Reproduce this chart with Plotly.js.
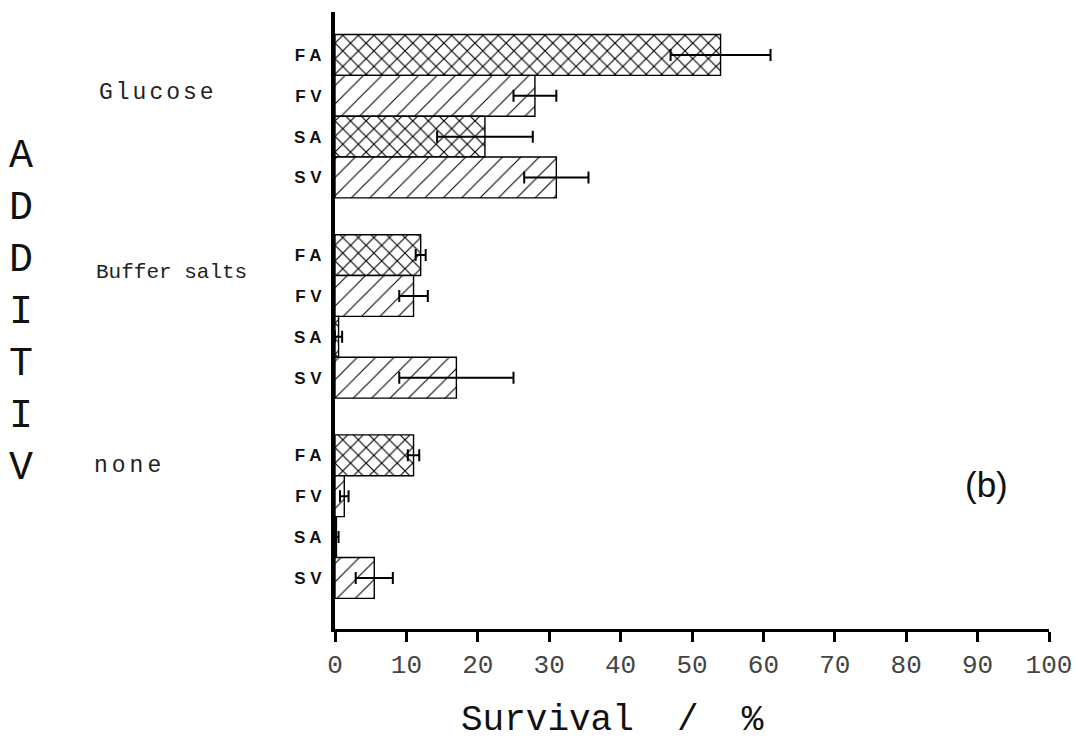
<!DOCTYPE html>
<html>
<head>
<meta charset="utf-8">
<script src="https://cdn.plot.ly/plotly-3.0.1.min.js"></script>
<style>
  html, body { margin: 0; padding: 0; background: #fff; }
  #chart { width: 1079px; height: 751px; }
</style>
</head>
<body>
<div id="chart"></div>
<script>
// ---- data ----
const groups = ['Glucose', 'Buffer salts', 'none'];
const subcats = ['F A', 'F V', 'S A', 'S V'];
const glucose = [54, 28, 21, 31];
const glucoseErr = [7, 3, 6.7, 4.5];
const bufferSalts = [12, 11, 0.5, 17];
const bufferSaltsErr = [0.7, 2, 0.5, 8];
const none = [11, 1.3, 0.2, 5.5];
const noneErr = [0.8, 0.6, 0.3, 2.6];
const xTicks = [0, 10, 20, 30, 40, 50, 60, 70, 80, 90, 100];
const xTitle = 'Survival\u00a0\u00a0/\u00a0\u00a0%';
const yTitle = 'ADDITIV';
const panelLabel = '(b)';

// ---- layout helpers ----
const W = 1079, H = 751;
const M = { l: 335, r: 30, t: 12, b: 122 };
const PW = W - M.l - M.r, PH = H - M.t - M.b;
const px2x = p => (p - M.l) / PW;
const py2y = p => (H - M.b - p) / PH;

const groupPitch = 4.9;
const values = [glucose, bufferSalts, none];
const errs = [glucoseErr, bufferSaltsErr, noneErr];
const isCross = s => s[2] === 'A';

const ys = [], xs = [], es = [], shapes = [], sizes = [], solid = [], texts = [];
values.forEach((vals, g) => {
  vals.forEach((v, j) => {
    ys.push(g * groupPitch + j);
    xs.push(v);
    es.push(errs[g][j]);
    const c = isCross(subcats[j]);
    shapes.push(c ? 'x' : '/');
    sizes.push(c ? 11 : 13);
    solid.push(c ? 0.2 : 0.08);
    texts.push(subcats[j]);
  });
});

const trace = {
  type: 'bar',
  orientation: 'h',
  x: xs,
  y: ys,
  width: 1,
  marker: {
    color: 'white',
    line: { color: 'black', width: 1.4 },
    pattern: { shape: shapes, size: sizes, solidity: solid, fgcolor: 'black', bgcolor: 'white', fillmode: 'replace' }
  },
  error_x: { type: 'data', array: es, visible: true, color: 'black', thickness: 2, width: 6 },
  hoverinfo: 'x+y'
};

const plotterFont = 'Liberation Mono, DejaVu Sans Mono, monospace';

const annotations = [
  { text: '<span style="letter-spacing:3px">' + groups[0] + '</span>', x: px2x(158), y: py2y(93), size: 23 },
  { text: groups[1], x: px2x(171), y: py2y(272), size: 21 },
  { text: '<span style="letter-spacing:4px">' + groups[2] + '</span>', x: px2x(129), y: py2y(466), size: 23 }
].map(a => ({ text: a.text, x: a.x, y: a.y, xref: 'paper', yref: 'paper', showarrow: false,
  xanchor: 'center', yanchor: 'middle', font: { family: plotterFont, size: a.size, color: '#222' } }));

annotations.push({
  text: yTitle.split('').join('<br>'), xref: 'paper', yref: 'paper', x: px2x(21), y: py2y(312),
  showarrow: false, xanchor: 'center', yanchor: 'middle',
  font: { family: plotterFont, size: 40, color: '#111' }
});
annotations.push({
  text: xTitle, xref: 'paper', yref: 'paper', x: px2x(612), y: py2y(720),
  showarrow: false, xanchor: 'center', yanchor: 'middle',
  font: { family: plotterFont, size: 36, color: '#111' }
});
annotations.push({
  text: panelLabel, xref: 'paper', yref: 'paper', x: px2x(986), y: py2y(484),
  showarrow: false, xanchor: 'center', yanchor: 'middle',
  font: { family: 'Liberation Sans, Arial, sans-serif', size: 35, color: '#111' }
});

const layout = {
  width: W, height: H,
  margin: M,
  paper_bgcolor: 'white', plot_bgcolor: 'white',
  showlegend: false,
  xaxis: {
    range: [0, 100], tickvals: xTicks, ticktext: xTicks.map(String),
    showline: true, linecolor: 'black', linewidth: 3,
    ticks: 'outside', ticklen: 10, tickwidth: 3, tickcolor: 'black',
    showgrid: false, zeroline: false, ticklabelstandoff: 0,
    tickfont: { family: plotterFont, size: 26, color: '#444' }
  },
  yaxis: {
    range: [14.05, -1.05], tickvals: ys, ticktext: texts,
    showline: true, linecolor: 'black', linewidth: 4,
    ticks: '', showgrid: false, zeroline: false, ticklabelstandoff: 6,
    tickfont: { family: 'Liberation Sans, Arial, sans-serif', size: 17, color: '#111', weight: 'bold' }
  },
  annotations: annotations
};

Plotly.newPlot('chart', [trace], layout, { displayModeBar: false, staticPlot: true });
</script>
</body>
</html>
